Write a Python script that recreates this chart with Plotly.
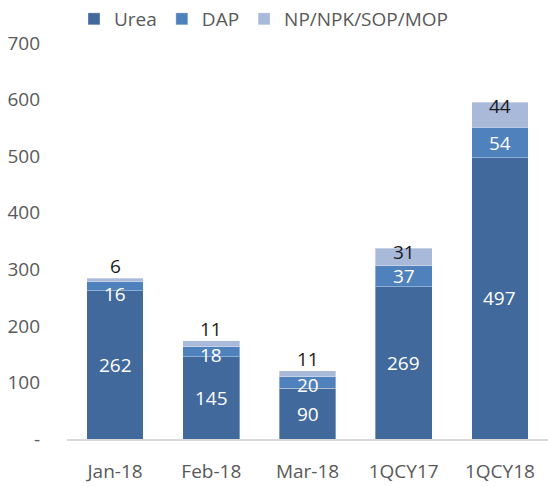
import plotly.graph_objects as go

categories = ["Jan-18", "Feb-18", "Mar-18", "1QCY17", "1QCY18"]
urea = [262, 145, 90, 269, 497]
dap = [16, 18, 20, 37, 54]
np_other = [6, 11, 11, 31, 44]
series_names = ["Urea", "DAP", "NP/NPK/SOP/MOP"]
y_ticks = [0, 100, 200, 300, 400, 500, 600, 700]
y_ticktext = ["-", "100", "200", "300", "400", "500", "600", "700"]

colors = ["#41699C", "#4F81BD", "#A9B9D9"]
FONT = "Open Sans"
FS = 19

fig = go.Figure()
for name, vals, col in zip(series_names, [urea, dap, np_other], colors):
    fig.add_trace(go.Bar(
        x=categories, y=vals, name=name,
        marker=dict(color=col, line=dict(color="rgba(255,255,255,0.35)", width=1)),
        hoverinfo="x+y+name",
    ))

annotations = []
for i, c in enumerate(categories):
    annotations.append(dict(x=c, y=urea[i] / 2, text=str(urea[i]), showarrow=False,
                            font=dict(family=FONT, size=FS, color="white"), yanchor="middle"))
    if np_other[i] < 10:
        dap_shift = -8
    elif dap[i] < 25:
        dap_shift = -3
    else:
        dap_shift = 0
    annotations.append(dict(x=c, y=urea[i] + dap[i] / 2, text=str(dap[i]), showarrow=False,
                            font=dict(family=FONT, size=FS, color="white"), yanchor="middle",
                            yshift=dap_shift))
    top = urea[i] + dap[i] + np_other[i]
    shift = -4 if np_other[i] >= 25 else 12
    annotations.append(dict(x=c, y=top, text=str(np_other[i]), showarrow=False,
                            font=dict(family=FONT, size=FS, color="#1A1A1A"),
                            yanchor="middle", yshift=shift))

fig.update_layout(
    barmode="stack",
    bargap=0.41,
    width=548, height=487,
    margin=dict(l=67, r=0, t=43, b=48),
    paper_bgcolor="white", plot_bgcolor="white",
    font=dict(family=FONT, size=FS, color="#595959"),
    showlegend=True,
    legend=dict(orientation="h", x=264 / 548, xref="container", xanchor="center",
                y=1 - 19 / 487, yref="container", yanchor="middle",
                font=dict(family=FONT, size=FS, color="#595959"), traceorder="normal",
                itemwidth=30),
    annotations=annotations,
    xaxis=dict(showline=True, linecolor="#D9D9D9", linewidth=1.5, showgrid=False,
               ticks="", tickfont=dict(family=FONT, size=FS, color="#595959"),
               ticklabelstandoff=14, fixedrange=True, automargin=False),
    yaxis=dict(range=[0, 700], tickvals=y_ticks, ticktext=y_ticktext, showgrid=False,
               showline=False, zeroline=False, ticks="",
               tickfont=dict(family=FONT, size=FS, color="#595959"),
               ticklabelstandoff=26, fixedrange=True, automargin=False),
)

fig.write_html("out.html", config={"displayModeBar": False},
               post_script="document.body.style.margin='0';document.body.style.padding='0';")
